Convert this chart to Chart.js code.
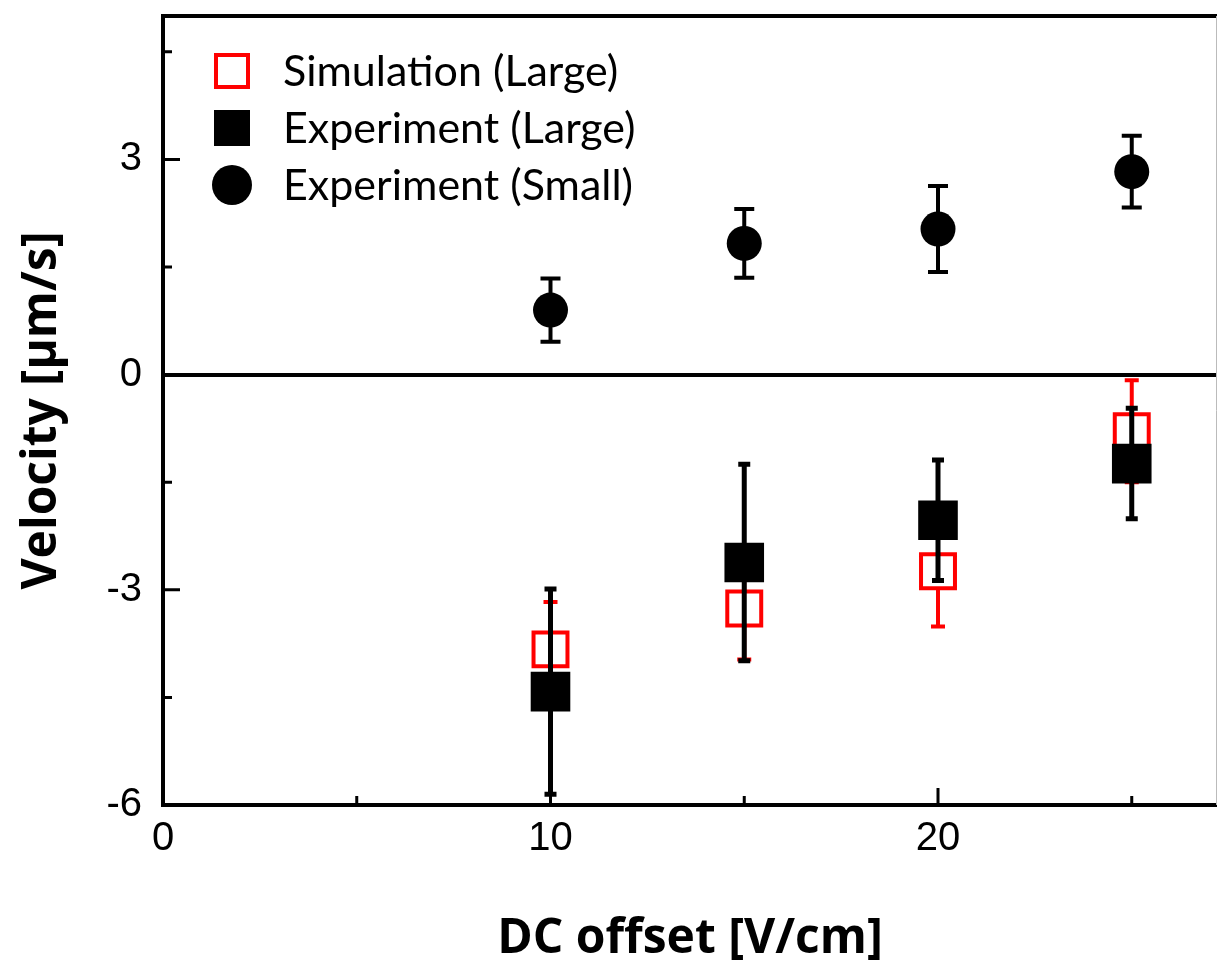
<!DOCTYPE html>
<html><head><meta charset="utf-8">
<script src="https://cdn.jsdelivr.net/npm/chart.js@4.4.1/dist/chart.umd.min.js"></script>
<style>html,body{margin:0;padding:0;background:#fff;overflow:hidden}#wrap{width:1217px;height:963px}</style>
</head><body><div id="wrap"><canvas id="c" width="1217" height="963"></canvas></div>
<script>
const dcOffset = [10, 15, 20, 25];
const simLarge = [-3.83, -3.26, -2.74, -0.79];
const simLargeErr = [0.66, 0.71, 0.77, 0.71];
const expLarge = [-4.42, -2.62, -2.03, -1.24];
const expLargeErr = [1.43, 1.37, 0.84, 0.77];
const expSmall = [0.90, 1.83, 2.03, 2.83];
const expSmallErr = [0.44, 0.48, 0.60, 0.50];
const seriesLabels = ['Simulation (Large)', 'Experiment (Large)', 'Experiment (Small)'];
const xTickValues = [0, 10, 20];
const xMinorTicks = [5, 15, 25];
const yTickValues = [-6, -3, 0, 3];
const yMinorTicks = [-4.5, -1.5, 1.5, 4.5];
const xTitle = 'DC offset [V/cm]';
const yTitle = 'Velocity [µm/s]';

const pts = (ys) => dcOffset.map((x, i) => ({ x: x, y: ys[i] }));

const errorBars = {
  id: 'errorBars',
  beforeDatasetDraw(chart, args) {
    const ds = chart.data.datasets[args.index];
    if (!ds.errValues) return;
    const xs = chart.scales.x, ys = chart.scales.y, ctx = chart.ctx;
    ctx.save();
    ctx.strokeStyle = ds.errColor;
    ds.data.forEach((p, i) => {
      const e = ds.errValues[i];
      const x = xs.getPixelForValue(p.x);
      const yt = ys.getPixelForValue(p.y + e);
      const yb = ys.getPixelForValue(p.y - e);
      ctx.lineWidth = ds.errWidth;
      ctx.beginPath(); ctx.moveTo(x, yt); ctx.lineTo(x, yb); ctx.stroke();
      ctx.lineWidth = ds.capThick;
      ctx.beginPath();
      ctx.moveTo(x - ds.capWidth / 2, yt); ctx.lineTo(x + ds.capWidth / 2, yt);
      ctx.moveTo(x - ds.capWidth / 2, yb); ctx.lineTo(x + ds.capWidth / 2, yb);
      ctx.stroke();
    });
    ctx.restore();
  }
};

const frameAndTicks = {
  id: 'frameAndTicks',
  afterDraw(chart) {
    const ctx = chart.ctx, a = chart.chartArea, xs = chart.scales.x, ys = chart.scales.y;
    ctx.save();
    ctx.strokeStyle = '#000';
    ctx.lineWidth = 4;
    ctx.beginPath(); ctx.moveTo(a.left - 2, a.top); ctx.lineTo(a.right, a.top); ctx.stroke();
    ctx.strokeStyle = '#bbb';
    ctx.lineWidth = 1;
    ctx.beginPath(); ctx.moveTo(a.right - 0.5, a.top); ctx.lineTo(a.right - 0.5, a.bottom); ctx.stroke();
    ctx.strokeStyle = '#000';
    ctx.lineWidth = 3;
    const major = 17, minor = 9;
    ctx.beginPath();
    xTickValues.forEach(v => { const x = xs.getPixelForValue(v); ctx.moveTo(x, a.bottom); ctx.lineTo(x, a.bottom - major); });
    xMinorTicks.forEach(v => { const x = xs.getPixelForValue(v); ctx.moveTo(x, a.bottom); ctx.lineTo(x, a.bottom - minor); });
    yTickValues.forEach(v => { const y = ys.getPixelForValue(v); ctx.moveTo(a.left, y); ctx.lineTo(a.left + major, y); });
    yMinorTicks.forEach(v => { const y = ys.getPixelForValue(v); ctx.moveTo(a.left, y); ctx.lineTo(a.left + minor, y); });
    ctx.stroke();
    ctx.restore();
  }
};

const insideLegend = {
  id: 'insideLegend',
  afterDraw(chart) {
    const ctx = chart.ctx;
    const rows = [71, 128, 185];
    const sx = 232, tx = 283;
    ctx.save();
    chart.data.datasets.forEach((ds, i) => {
      const y = rows[i];
      if (ds.pointStyle === 'rect') {
        if (ds.pointBackgroundColor === '#ffffff') {
          ctx.fillStyle = '#ffffff'; ctx.strokeStyle = ds.pointBorderColor; ctx.lineWidth = 4;
          ctx.fillRect(sx - 16, y - 16, 32, 32); ctx.strokeRect(sx - 16, y - 16, 32, 32);
        } else {
          ctx.fillStyle = ds.pointBackgroundColor;
          ctx.fillRect(sx - 18, y - 18, 36, 36);
        }
      } else {
        ctx.fillStyle = ds.pointBackgroundColor;
        ctx.beginPath(); ctx.arc(sx, y, 20, 0, Math.PI * 2); ctx.fill();
      }
      ctx.fillStyle = '#000';
      ctx.font = '43px Lato, "Open Sans", sans-serif';
      ctx.textBaseline = 'middle';
      ctx.textAlign = 'left';
      ctx.fillText(ds.label, tx, y + 1);
    });
    ctx.restore();
  }
};

const tickFont = { family: '"Liberation Sans", Arial, sans-serif', size: 40, lineHeight: 1 };
const titleFont = { family: '"Open Sans", sans-serif', size: 48, weight: 'bold', lineHeight: 1 };

new Chart(document.getElementById('c'), {
  type: 'scatter',
  data: {
    datasets: [
      { label: seriesLabels[0], data: pts(simLarge), errValues: simLargeErr, errColor: '#ff0000', errWidth: 4, capThick: 4, capWidth: 14,
        pointStyle: 'rect', pointRadius: 24, pointBackgroundColor: '#ffffff', pointBorderColor: '#ff0000', pointBorderWidth: 4, order: 3 },
      { label: seriesLabels[1], data: pts(expLarge), errValues: expLargeErr, errColor: '#000000', errWidth: 5, capThick: 5, capWidth: 12,
        pointStyle: 'rect', pointRadius: 28, pointBackgroundColor: '#000000', pointBorderColor: '#000000', pointBorderWidth: 0, order: 2 },
      { label: seriesLabels[2], data: pts(expSmall), errValues: expSmallErr, errColor: '#000000', errWidth: 4, capThick: 4, capWidth: 20,
        pointStyle: 'circle', pointRadius: 17.5, pointBackgroundColor: '#000000', pointBorderColor: '#000000', pointBorderWidth: 0, order: 1 }
    ]
  },
  options: {
    responsive: false,
    animation: false,
    devicePixelRatio: 1,
    events: [],
    layout: { autoPadding: false, padding: { top: 16, left: 0, right: 0, bottom: 0 } },
    plugins: { legend: { display: false }, tooltip: { enabled: false } },
    scales: {
      x: {
        type: 'linear', min: 0, max: 27.2,
        afterBuildTicks: s => { s.ticks = xTickValues.map(v => ({ value: v })); },
        afterFit: s => { s.height = 158; s.paddingLeft = 0; s.paddingRight = 0; },
        grid: { drawTicks: false, color: 'rgba(0,0,0,0)' },
        border: { display: true, color: '#000', width: 4 },
        ticks: { padding: 14, font: tickFont, color: '#000', maxRotation: 0, autoSkip: false },
        title: { display: true, text: xTitle, font: titleFont, color: '#000', padding: { top: 0, bottom: 0 } }
      },
      y: {
        type: 'linear', min: -6, max: 5,
        afterBuildTicks: s => { s.ticks = yTickValues.map(v => ({ value: v })); },
        afterFit: s => { s.width = 163; s.paddingTop = 0; s.paddingBottom = 0; },
        grid: { drawTicks: false, lineWidth: 4, color: c => (c.tick && c.tick.value === 0) ? '#000' : 'rgba(0,0,0,0)' },
        border: { display: true, color: '#000', width: 4 },
        ticks: { padding: 21, font: tickFont, color: '#000' },
        title: { display: true, text: yTitle, font: titleFont, color: '#000', padding: { top: 18, bottom: 0 } }
      }
    }
  },
  plugins: [errorBars, frameAndTicks, insideLegend]
});
</script>
</body></html>
